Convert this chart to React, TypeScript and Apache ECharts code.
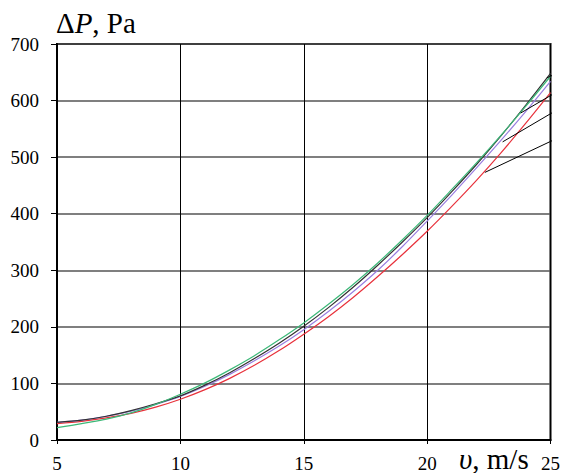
import React, { useEffect, useRef } from "react";
import * as echarts from "echarts";

const velocities = [5, 6, 7, 8, 9, 10, 11, 12, 13, 14, 15, 16, 17, 18, 19, 20, 21, 22, 23, 24, 25];
const greenP = [22, 29, 37, 48, 63, 81, 101, 124, 149, 177, 207, 240, 275, 313, 354, 397, 443, 490, 539, 590, 643];
const blackP = [31, 35, 42, 52, 64, 78, 97, 119, 144, 171, 201, 234, 270, 309, 350, 393, 439, 487, 538, 592, 648];
const purpleP = [31, 35, 42, 51, 63, 77, 95, 116, 140, 166, 195, 227, 262, 300, 342, 387, 433, 481, 530, 581, 634];
const redP = [29, 33, 39, 47, 58, 72, 89, 109, 132, 158, 187, 218, 252, 289, 328, 369, 413, 459, 508, 560, 614];

// leader lines: [v, P] start (outside right edge) and end (on curve)
const leaderStart = [[25.4, 651], [25.4, 619], [25.4, 587], [25.4, 536]];
const leaderEnd = [[24.85, 640], [23.79, 578], [23.06, 527], [22.34, 473]];

const xTicks = [5, 10, 15, 20, 25];
const yTicks = [0, 100, 200, 300, 400, 500, 600, 700];

const serif = "'Liberation Serif', 'Times New Roman', serif";

export default function App() {
  const ref = useRef<HTMLDivElement>(null);
  useEffect(() => {
    if (!ref.current) return;
    const chart = echarts.init(ref.current, undefined, { renderer: "svg" });
    const curve = (data: number[], color: string, width = 1.2) => ({
      type: "line",
      data: velocities.map((v, i) => [v, data[i]]),
      smooth: 0.3,
      showSymbol: false,
      symbol: "none",
      lineStyle: { color, width },
      z: 3,
    });
    const leaders = leaderStart.map((s, i) => ({
      type: "line",
      data: [s, leaderEnd[i]],
      showSymbol: false,
      symbol: "none",
      clip: false,
      lineStyle: { color: "#000", width: 1 },
      z: 4,
    }));
    chart.setOption({
      animation: false,
      backgroundColor: "#fff",
      grid: {
        left: 57,
        right: 10,
        top: 44,
        bottom: 32,
        show: true,
        borderColor: "#000",
        borderWidth: 2,
      },
      xAxis: {
        type: "value",
        min: xTicks[0],
        max: xTicks[xTicks.length - 1],
        interval: 5,
        axisLine: { show: true, lineStyle: { color: "#000", width: 2 } },
        axisTick: { show: true, length: 4, lineStyle: { color: "#000" } },
        axisLabel: {
          color: "#000",
          fontFamily: serif,
          fontSize: 19,
          margin: 14,
          formatter: (v: number) => String(v),
        },
        splitLine: { show: true, lineStyle: { color: "#000", width: 1 } },
      },
      yAxis: {
        type: "value",
        min: yTicks[0],
        max: yTicks[yTicks.length - 1],
        interval: 100,
        axisLine: { show: true, lineStyle: { color: "#000", width: 2 } },
        axisTick: { show: true, length: 6, lineStyle: { color: "#000" } },
        axisLabel: {
          color: "#000",
          fontFamily: serif,
          fontSize: 19,
          margin: 18,
        },
        splitLine: { show: true, lineStyle: { color: "#555", width: 1.5 } },
      },
      graphic: [
        {
          type: "text",
          left: 56,
          top: 8,
          style: {
            text: "{n|Δ}{i|P}{n|, Pa}",
            rich: {
              n: { fontFamily: serif, fontSize: 29, fill: "#000" },
              i: { fontFamily: serif, fontSize: 29, fontStyle: "italic", fill: "#000" },
            },
          },
        },
        {
          type: "text",
          left: 459,
          top: 444,
          style: {
            text: "{i|υ}{n|, m/s}",
            rich: {
              n: { fontFamily: serif, fontSize: 29, fill: "#000" },
              i: { fontFamily: serif, fontSize: 29, fontStyle: "italic", fill: "#000" },
            },
          },
        },
      ],
      series: [
        curve(redP, "#e8323c"),
        curve(purpleP, "#9a7ee0"),
        curve(blackP, "#333333"),
        curve(greenP, "#3cb878"),
        ...leaders,
      ],
    });
    return () => chart.dispose();
  }, []);
  return (
    <div
      ref={ref}
      style={{ position: "fixed", left: 0, top: 0, width: 563, height: 473 }}
    />
  );
}
